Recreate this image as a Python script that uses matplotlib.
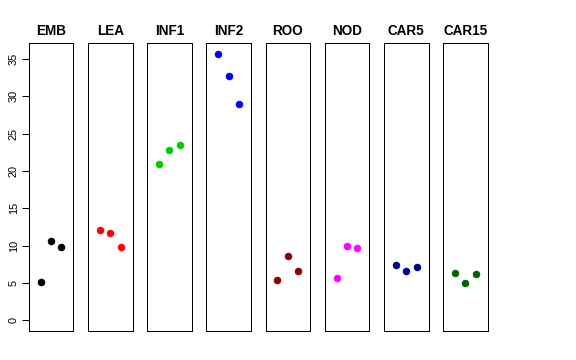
import matplotlib
matplotlib.use("Agg")
import matplotlib.pyplot as plt

plt.rcParams['font.family'] = ['Liberation Sans', 'DejaVu Sans']

tissues = ["EMB", "LEA", "INF1", "INF2", "ROO", "NOD", "CAR5", "CAR15"]
colors = ["#000000", "#FF0000", "#00CD00", "#0000FF", "#8B0000", "#FF00FF", "#00008B", "#006400"]
reps = [1, 2, 3]
emb = [5.1, 10.65, 9.8]
lea = [12.05, 11.75, 9.85]
inf1 = [20.9, 22.8, 23.5]
inf2 = [35.7, 32.75, 29.0]
roo = [5.35, 8.65, 6.6]
nod = [5.65, 9.9, 9.7]
car5 = [7.4, 6.65, 7.1]
car15 = [6.3, 4.95, 6.25]
values = [emb, lea, inf1, inf2, roo, nod, car5, car15]
yticks = [0, 5, 10, 15, 20, 25, 30, 35]

W, H = 576, 360
fig = plt.figure(figsize=(W / 72, H / 72), dpi=72)

ymax = max(max(v) for v in values)
ypad = 0.04 * ymax
left0, step, pw = 28.7, 59.2, 44.6
top, bottom = 43, 331

for i, (name, col, vals) in enumerate(zip(tissues, colors, values)):
    x0 = left0 + i * step
    ax = fig.add_axes([x0 / W, (H - bottom) / H, pw / W, (bottom - top) / H])
    ax.plot(reps, vals, 'o', color=col, ms=6.5, mec=col)
    ax.set_xlim(0 - 0.16, 4 + 0.16)
    ax.set_ylim(0 - ypad, ymax + ypad)
    ax.set_xticks([])
    for s in ax.spines.values():
        s.set_linewidth(1)
        s.set_color('black')
    ax.set_title(name, fontsize=13.5, fontweight='bold', pad=8)
    if i == 0:
        ax.set_yticks(yticks)
        ax.tick_params(axis='y', length=7, width=1, labelsize=11, pad=3)
        for lab in ax.get_yticklabels():
            lab.set_rotation(90)
            lab.set_va('center')
    else:
        ax.set_yticks([])

fig.savefig("out.png", dpi=72)
